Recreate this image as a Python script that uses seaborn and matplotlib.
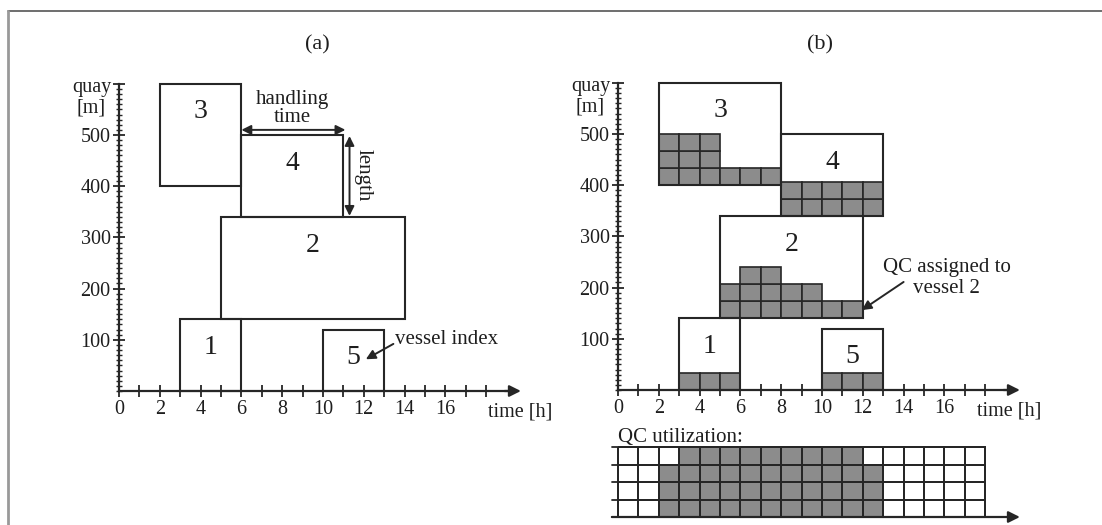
import numpy as np
import matplotlib
matplotlib.use("Agg")
import matplotlib.pyplot as plt
import seaborn as sns
from matplotlib.colors import ListedColormap
from matplotlib.lines import Line2D

# ---------------- data ----------------
vessels = [1, 2, 3, 4, 5]
vessel_length = [140, 200, 200, 160, 120]      # quay length [m]
berth_pos = [0, 140, 400, 340, 0]              # berthing position [m]
start_a = [3, 5, 2, 6, 10]                     # schedule (a) [h]
end_a = [6, 14, 6, 11, 13]
start_b = [3, 5, 2, 8, 10]                     # schedule (b) [h]
end_b = [6, 12, 8, 13, 13]
qc_v1 = [1, 1, 1]                              # QCs per hour, schedule (b)
qc_v2 = [2, 3, 3, 2, 2, 1, 1]
qc_v3 = [3, 3, 3, 1, 1, 1]
qc_v4 = [2, 2, 2, 2, 2]
qc_v5 = [1, 1, 1]
qc_util = [0, 0, 3, 4, 4, 4, 4, 4, 4, 4, 4, 4, 3, 0, 0, 0, 0, 0]   # QC in use per hour
qc_total = 4
qc_span = 33.5                                 # quay length drawn per QC [m]
x_ticks = list(range(0, 19))
x_tick_labels = [str(v) if (v % 2 == 0 and v <= 16) else "" for v in x_ticks]
y_ticks = [100, 200, 300, 400, 500, 600]
y_tick_labels = ["100", "200", "300", "400", "500", ""]
label_y = [85, 285, 545, 445, 66]              # vertical placement of vessel index

qc_per_vessel = [qc_v1, qc_v2, qc_v3, qc_v4, qc_v5]

# ---------------- style ----------------
sns.set_theme(style="white")
plt.rcParams["font.family"] = ["Liberation Serif", "DejaVu Serif"]
EDGE = "#262626"
GRAY = "#8c8c8c"
TXT = "#1e1e1e"
FS_TICK = 14.5
FS_TXT = 15
FS_NUM = 20

W, H = 1102, 525
fig = plt.figure(figsize=(W / 100, H / 100), dpi=100)
fig.patch.set_facecolor("white")


def axes_rect(x0, xs, xlim, y0, ys, ylim):
    left = x0 + xlim[0] * xs
    right = x0 + xlim[1] * xs
    top = y0 - ylim[1] * ys
    bottom = y0 - ylim[0] * ys
    return [left / W, 1 - bottom / H, (right - left) / W, (bottom - top) / H]


XS, YS = 20.4, 0.512
XL = (-5.5, 21.0)
YL_A = (-120, 660)
YL_B = (-60, 660)

ax_a = fig.add_axes(axes_rect(119, XS, XL, 391, YS, YL_A))
ax_b = fig.add_axes(axes_rect(618, XS, XL, 390, YS, YL_B))


def setup(ax, ylim, time_x):
    ax.set_facecolor("none")
    ax.set_xlim(*XL)
    ax.set_ylim(*ylim)
    for s in ["top", "right"]:
        ax.spines[s].set_visible(False)
    for s in ["left", "bottom"]:
        ax.spines[s].set_position(("data", 0))
        ax.spines[s].set_color(EDGE)
        ax.spines[s].set_linewidth(1.6)
    ax.spines["left"].set_bounds(0, 600)
    ax.spines["bottom"].set_bounds(0, 19.0)
    ax.set_xticks(x_ticks)
    ax.set_xticklabels(x_tick_labels)
    ax.set_yticks(y_ticks)
    ax.set_yticklabels(y_tick_labels)
    ax.set_yticks(np.arange(0, 601, 10), minor=True)
    ax.tick_params(axis="x", which="major", bottom=True, direction="inout",
                   length=8, width=1.3, pad=2.5, labelsize=FS_TICK, colors=EDGE,
                   labelcolor=TXT)
    ax.tick_params(axis="y", which="major", left=True, direction="inout",
                   length=9, width=1.3, pad=1.5, labelsize=FS_TICK, colors=EDGE,
                   labelcolor=TXT)
    ax.tick_params(axis="y", which="minor", left=True, direction="inout",
                   length=5, width=1.0, colors=EDGE)
    ax.annotate("", xy=(19.7, 0), xytext=(18.9, 0),
                arrowprops=dict(arrowstyle="-|>", color=EDGE, lw=1.6,
                                mutation_scale=17, shrinkA=0, shrinkB=0))
    ax.text(-1.35, 573, "quay\n[m]", ha="center", va="center", fontsize=FS_TICK,
            color=TXT, linespacing=1.1)
    ax.text(time_x, -41, "time [h]", ha="left", va="center", fontsize=FS_TICK,
            color=TXT)


def draw_vessels(ax, starts, ends, with_qc):
    starts = np.array(starts)
    dur = np.array(ends) - starts
    if with_qc:
        for i in range(len(vessels)):
            for h, n in enumerate(qc_per_vessel[i]):
                ax.bar([starts[i] + h] * n, [qc_span] * n, width=1,
                       bottom=[berth_pos[i] + k * qc_span for k in range(n)],
                       align="edge", color=GRAY, edgecolor=EDGE,
                       linewidth=1.2, zorder=2)
    ax.bar(starts, vessel_length, width=dur, bottom=berth_pos, align="edge",
           facecolor="none", edgecolor=EDGE, linewidth=1.5, zorder=3)
    for i, v in enumerate(vessels):
        ax.text(starts[i] + dur[i] / 2, label_y[i], str(v), ha="center",
                va="center", fontsize=FS_NUM, color=TXT, zorder=4)


# ---------- panel (a) ----------
setup(ax_a, YL_A, 18.1)
draw_vessels(ax_a, start_a, end_a, False)
ax_a.annotate("", xy=(6.0, 510), xytext=(11.1, 510),
              arrowprops=dict(arrowstyle="<|-|>", color=EDGE, lw=1.4,
                              mutation_scale=14, shrinkA=0, shrinkB=0))
ax_a.text(8.5, 552, "handling\ntime", ha="center", va="center", fontsize=FS_TXT,
          color=TXT, linespacing=0.95)
ax_a.annotate("", xy=(11.3, 342), xytext=(11.3, 498),
              arrowprops=dict(arrowstyle="<|-|>", color=EDGE, lw=1.4,
                              mutation_scale=14, shrinkA=0, shrinkB=0))
ax_a.text(11.95, 422, "length", ha="center", va="center", rotation=-90,
          fontsize=FS_TXT, color=TXT)
ax_a.annotate("", xy=(12.1, 62), xytext=(13.45, 92),
              arrowprops=dict(arrowstyle="-|>", color=EDGE, lw=1.4,
                              mutation_scale=14, shrinkA=0, shrinkB=0))
ax_a.text(13.55, 100, "vessel index", ha="left", va="center", fontsize=FS_TXT,
          color=TXT)

# ---------- panel (b) ----------
setup(ax_b, YL_B, 17.6)
draw_vessels(ax_b, start_b, end_b, True)
ax_b.text(16.1, 219, "QC assigned to\nvessel 2", ha="center", va="center",
          fontsize=FS_TXT, color=TXT, linespacing=1.12)
ax_b.annotate("", xy=(11.95, 156), xytext=(14.0, 211),
              arrowprops=dict(arrowstyle="-|>", color=EDGE, lw=1.4,
                              mutation_scale=14, shrinkA=0, shrinkB=0))
ax_b.text(0, -92, "QC utilization:", ha="left", va="center", fontsize=FS_TXT,
          color=TXT)

# ---------- QC utilization grid ----------
RH = 17.5
QXL = (-1.0, 20.5)
QYL = (-0.3, 4.3)
left = 618 + QXL[0] * XS
right = 618 + QXL[1] * XS
top = 447 + QYL[0] * RH
bottom = 447 + QYL[1] * RH
ax_q = fig.add_axes([left / W, 1 - bottom / H, (right - left) / W, (bottom - top) / H])
util = np.array(qc_util)
grid = np.array([[1 if u >= qc_total - r else 0 for u in util] for r in range(qc_total)])
sns.heatmap(grid, ax=ax_q, cmap=ListedColormap(["white", GRAY]), vmin=0, vmax=1,
            cbar=False, linewidths=1.3, linecolor=EDGE, xticklabels=False,
            yticklabels=False)
ax_q.set_xlim(*QXL)
ax_q.set_ylim(QYL[1], QYL[0])
ax_q.axis("off")
for r in range(qc_total + 1):
    ax_q.plot([-0.3, 0], [r, r], color=EDGE, lw=1.3)
ax_q.annotate("", xy=(19.7, qc_total), xytext=(-0.3, qc_total),
              arrowprops=dict(arrowstyle="-|>", color=EDGE, lw=1.6,
                              mutation_scale=17, shrinkA=0, shrinkB=0))

# ---------- titles and frame ----------
fig.text(317 / W, 1 - 45 / H, "(a)", ha="center", va="center", fontsize=16, color=TXT)
fig.text(820 / W, 1 - 45 / H, "(b)", ha="center", va="center", fontsize=16, color=TXT)
fig.add_artist(Line2D([8 / W, 1], [1 - 11 / H, 1 - 11 / H], color="#555555", lw=1.2,
                      transform=fig.transFigure))
fig.add_artist(Line2D([8 / W, 8 / W], [0, 1 - 11 / H], color="#999999", lw=2.0,
                      transform=fig.transFigure))

fig.savefig("out.png", dpi=100)
